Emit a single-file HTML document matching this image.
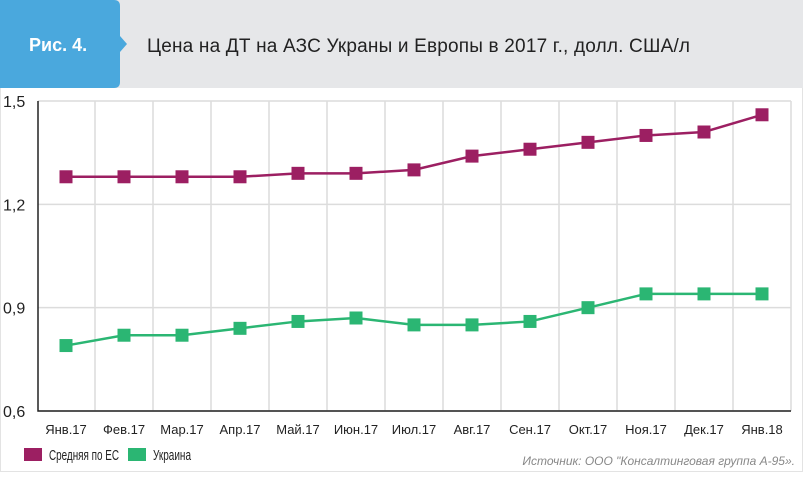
<!DOCTYPE html>
<html><head><meta charset="utf-8"><style>
body{margin:0;width:803px;height:472px;overflow:hidden;background:#fff;font-family:"Liberation Sans",sans-serif}
svg text{font-family:"Liberation Sans",sans-serif}
</style></head><body>
<svg width="803" height="472">
<rect x="0.5" y="0.5" width="802" height="471" fill="#fff" stroke="#e3e3e3"/>
<rect x="0" y="0" width="803" height="88" fill="#e6e7e9"/>
<path d="M0 0 H114 Q120 0 120 6 V36 L127 44 L120 52 V82 Q120 88 114 88 H0 Z" fill="#4aa8dd"/>
<text x="29" y="51" fill="#fff" font-size="18" font-weight="bold">Рис. 4.</text>
<text x="147" y="52" fill="#222" font-size="19" textLength="543">Цена на ДТ на АЗС Украны и Европы в 2017 г.,  долл. США/л</text>
<g id="grid"></g><g id="plot"></g>
<g>
<rect x="24" y="448" width="18" height="13" fill="#9c1f62"/>
<text x="49" y="460" font-size="15" fill="#222" textLength="70" lengthAdjust="spacingAndGlyphs">Средняя по ЕС</text>
<rect x="128" y="448" width="18" height="13" fill="#2bb673"/>
<text x="153" y="460" font-size="15" fill="#222" textLength="38" lengthAdjust="spacingAndGlyphs">Украина</text>
</g>
<text x="795" y="465" text-anchor="end" font-size="12" font-style="italic" fill="#888">Источник: ООО "Консалтинговая группа А-95».</text>
</svg>
<script>
const categories=["Янв.17","Фев.17","Мар.17","Апр.17","Май.17","Июн.17","Июл.17","Авг.17","Сен.17","Окт.17","Ноя.17","Дек.17","Янв.18"];
const euValues=[1.28,1.28,1.28,1.28,1.29,1.29,1.30,1.34,1.36,1.38,1.40,1.41,1.46];
const uaValues=[0.79,0.82,0.82,0.84,0.86,0.87,0.85,0.85,0.86,0.90,0.94,0.94,0.94];
const yTicks=[0.6,0.9,1.2,1.5];
const yTickLabels=["0,6","0,9","1,2","1,5"];
const NS="http://www.w3.org/2000/svg";
const x0=38,x1=791,yTop=101,yBot=411,yMin=0.6,yMax=1.5;
function xs(i){return 66+i*58;}
function ys(v){return yBot-(v-yMin)/(yMax-yMin)*(yBot-yTop);}
function mk(t,a,p){const e=document.createElementNS(NS,t);for(const k in a)e.setAttribute(k,a[k]);p.appendChild(e);return e;}
const g=document.getElementById('grid'),p=document.getElementById('plot');
yTicks.forEach((v,i)=>{
 const l=mk('line',{x1:x0,x2:x1,y1:ys(v),y2:ys(v),stroke:'#dcdcdc','stroke-width':1.5},g);
 
 
 const t=mk('text',{x:3,y:ys(v)+6,'font-size':16,fill:'#222'},g);t.textContent=yTickLabels[i];
 
 
});
categories.forEach((c,i)=>{
 const l=mk('line',{x1:xs(i)+29,x2:xs(i)+29,y1:yTop,y2:yBot,stroke:'#dcdcdc','stroke-width':1.5},g);
 
 
 const t=mk('text',{x:xs(i),y:434,'font-size':13,fill:'#222','text-anchor':'middle'},g);t.textContent=c;
 
 
});
const ax=mk('path',{d:`M${x0} ${yTop} V${yBot} H${x1}`,stroke:'#222','stroke-width':1.5,fill:'none'},g);


function series(vals,color,name){
 const pl=mk('polyline',{points:vals.map((v,i)=>xs(i)+','+ys(v)).join(' '),fill:'none',stroke:color,'stroke-width':2.5},p);
 
 
 vals.forEach((v,i)=>{
  const r=mk('rect',{x:xs(i)-6.5,y:ys(v)-6.5,width:13,height:13,fill:color},p);
  
  
 });
}
series(euValues,'#9c1f62','eu');
series(uaValues,'#2bb673','ukraine');
</script>
</body></html>
